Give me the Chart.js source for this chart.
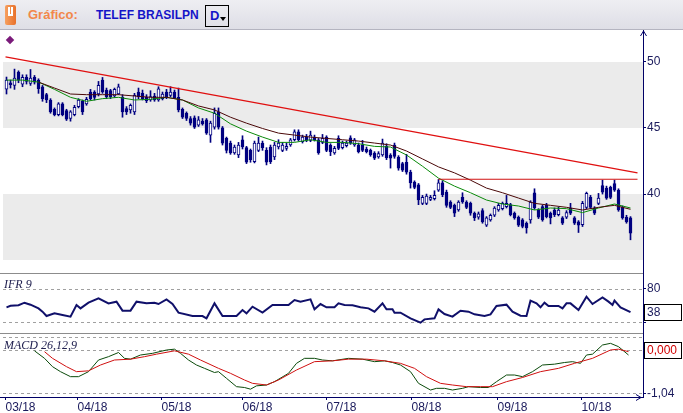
<!DOCTYPE html>
<html>
<head>
<meta charset="utf-8">
<script src="https://cdn.jsdelivr.net/npm/chart.js@4.4.1/dist/chart.umd.min.js"></script>
<style>
  html, body { margin: 0; padding: 0; background: #fff; }
  body { width: 683px; height: 413px; position: relative; overflow: hidden; font-family: "Liberation Sans", Arial, sans-serif; }
  #barra { position: absolute; left: 0; top: 0; width: 683px; height: 30px; background: linear-gradient(#eeeef2, #dedee6); border-bottom: 1px solid #b4b4c0; box-sizing: border-box; }
  #logo { position: absolute; left: 5px; top: 5px; width: 11px; height: 20px; background: linear-gradient(90deg, #f6a060, #e8702a); border-radius: 2px; }
  #logo:after { content: ""; position: absolute; left: 3px; top: 2px; width: 5px; height: 9px; border-left: 2px solid #fff; border-right: 2px solid #fff; border-bottom: 2px solid #fff; box-sizing: border-box; }
  #tit1 { position: absolute; left: 28px; top: 7px; font-size: 13px; font-weight: bold; color: #f2874a; }
  #tit2 { position: absolute; left: 96px; top: 8px; font-size: 12px; font-weight: bold; color: #1414c8; }
  #per { position: absolute; left: 205px; top: 5px; width: 24px; height: 22px; border: 1px solid #000; box-sizing: border-box; font-size: 13px; font-weight: bold; color: #1414c8; padding: 2px 0 0 4px; }
  #per span { position: absolute; left: 14px; top: 11px; width: 0; height: 0; border-left: 3px solid transparent; border-right: 3px solid transparent; border-top: 4px solid #000; }
  #diamante { position: absolute; left: 7px; top: 37px; width: 6px; height: 6px; background: #7a1a7a; transform: rotate(45deg); }
  canvas { position: absolute; left: 0; }
  .sep { position: absolute; left: 0; width: 643px; height: 1px; background: #8c8c8c; }
  .rot { position: absolute; left: 4px; font-family: "Liberation Serif", serif; font-style: italic; font-size: 12px; color: #202050; }
</style>
</head>
<body>
<div id="barra">
  <div id="logo"></div>
  <div id="tit1">Gráfico:</div>
  <div id="tit2">TELEF BRASILPN</div>
  <div id="per">D<span></span></div>
</div>
<canvas id="cvPreco" width="683" height="242" style="top:30px"></canvas>
<canvas id="cvIfr" width="683" height="62" style="top:272px"></canvas>
<canvas id="cvMacd" width="683" height="79" style="top:334px"></canvas>
<div class="sep" style="top:273px"></div>
<div class="sep" style="top:333px"></div>
<div id="diamante"></div>
<div class="rot" style="top:277px">IFR 9</div>
<div class="rot" style="top:338px">MACD 26,12,9</div>
<script>
// candles diarios (03/18 a 10/18)
const abertura = [
  47.92, 48.40, 48.20, 49.20, 48.30, 48.80, 48.35, 48.80, 48.60, 48.10,
  47.50, 47.10, 46.40, 46.00, 46.80, 46.30, 45.70, 46.00, 46.60, 47.00,
  46.80, 47.70, 47.70, 47.55, 48.60, 47.85, 47.80, 47.40, 47.55, 47.30,
  46.45, 46.35, 46.20, 47.70, 47.60, 47.30, 47.10, 47.40, 47.10, 47.20,
  47.70, 47.45, 47.70, 47.30, 46.40, 46.10, 45.70, 45.75, 45.20, 45.50,
  45.60, 44.45, 45.05, 46.20, 45.00, 44.20, 43.85, 43.10, 42.95, 44.10,
  43.50, 43.30, 42.45, 43.30, 43.85, 43.30, 43.55, 42.80, 43.55, 43.30,
  43.45, 43.70, 44.10, 44.70, 43.95, 44.30, 44.05, 44.30, 44.10, 43.90,
  44.30, 43.70, 43.10, 44.20, 43.50, 43.65, 44.25, 43.70, 43.70, 43.70,
  43.40, 43.30, 43.10, 42.80, 42.95, 43.60, 42.95, 43.70, 42.80, 42.30,
  42.40, 41.65, 40.90, 40.70, 39.30, 39.30, 39.60, 39.65, 40.30, 40.85,
  40.15, 39.40, 39.15, 38.80, 39.75, 39.40, 39.30, 38.55, 38.25, 38.75,
  37.65, 38.05, 38.40, 38.80, 38.90, 39.05, 39.20, 38.55, 38.25, 38.05,
  37.80, 38.05, 40.10, 38.80, 39.05, 39.15, 38.55, 38.80, 38.45, 38.20,
  38.25, 38.95, 38.20, 37.90, 37.70, 39.00, 39.75, 38.95, 39.30, 40.65,
  40.45, 40.50, 40.80, 40.30, 39.00, 38.25, 38.20
];
const fechamento = [
  48.60, 48.25, 48.75, 48.60, 48.80, 48.50, 48.75, 48.45, 47.95, 47.20,
  47.10, 46.20, 46.00, 46.80, 46.00, 45.65, 46.20, 46.55, 47.10, 46.20,
  47.15, 47.20, 47.30, 48.20, 47.70, 47.35, 47.35, 47.90, 48.10, 46.20,
  46.20, 46.70, 47.45, 47.35, 47.20, 47.05, 47.35, 47.10, 47.95, 47.55,
  47.35, 47.70, 47.25, 46.35, 45.80, 45.70, 45.35, 45.05, 45.60, 45.30,
  44.60, 45.35, 46.10, 45.05, 43.85, 43.30, 43.10, 43.55, 43.70, 43.55,
  42.40, 42.60, 43.85, 43.85, 43.50, 42.40, 42.45, 43.70, 43.85, 43.70,
  43.60, 44.10, 44.70, 44.10, 44.30, 44.05, 44.45, 44.10, 43.10, 44.20,
  43.30, 43.20, 43.45, 43.45, 43.85, 43.85, 43.85, 44.10, 43.20, 43.30,
  43.20, 42.95, 42.70, 43.05, 43.85, 42.75, 42.70, 42.85, 41.95, 41.80,
  41.65, 40.85, 40.50, 39.55, 39.75, 39.85, 39.75, 39.90, 40.85, 39.95,
  39.15, 39.00, 38.55, 39.40, 39.40, 39.00, 38.55, 38.20, 38.50, 37.90,
  38.20, 38.40, 38.95, 39.15, 39.30, 39.30, 38.45, 38.20, 37.65, 37.55,
  37.45, 39.40, 38.95, 38.25, 38.05, 38.30, 38.20, 38.45, 38.80, 37.80,
  38.60, 38.55, 37.80, 37.65, 39.30, 40.05, 39.00, 38.55, 39.70, 40.15,
  39.70, 39.75, 40.30, 38.80, 38.20, 37.90, 37.05
];
const maxima = [
  48.83, 48.60, 49.43, 49.30, 49.00, 49.00, 49.40, 48.95, 48.70, 48.20,
  47.60, 47.20, 46.50, 46.90, 46.90, 46.40, 46.30, 46.70, 47.20, 47.10,
  47.30, 47.90, 47.80, 48.50, 48.80, 48.00, 47.90, 48.00, 48.30, 47.50,
  46.60, 46.80, 47.60, 48.00, 47.85, 47.50, 47.80, 47.60, 48.10, 47.70,
  47.90, 48.10, 47.85, 48.00, 46.50, 46.20, 45.85, 45.90, 45.85, 45.70,
  45.70, 45.50, 46.50, 46.50, 45.10, 44.30, 44.00, 43.70, 43.90, 44.40,
  43.60, 43.40, 44.00, 44.30, 44.00, 43.50, 43.70, 43.90, 44.10, 43.90,
  43.85, 44.20, 44.85, 44.85, 44.45, 44.50, 44.75, 44.45, 44.20, 44.50,
  44.40, 43.80, 43.60, 44.40, 44.00, 44.00, 44.40, 44.20, 43.85, 44.05,
  43.55, 43.40, 43.20, 43.20, 44.15, 43.80, 43.05, 43.85, 42.90, 42.40,
  43.00, 41.80, 41.00, 40.80, 39.90, 40.00, 39.90, 40.25, 41.10, 41.00,
  40.30, 39.50, 39.25, 39.50, 40.10, 39.50, 39.40, 38.65, 38.65, 38.90,
  38.30, 38.50, 39.05, 39.30, 39.40, 39.90, 39.30, 38.65, 38.35, 38.15,
  37.90, 39.50, 40.40, 38.90, 39.15, 39.30, 38.65, 38.95, 39.00, 38.30,
  38.75, 39.30, 38.30, 38.00, 39.45, 40.15, 39.90, 39.05, 40.05, 41.05,
  40.60, 40.60, 41.05, 40.40, 39.10, 38.40, 38.30
];
const minima = [
  47.55, 48.00, 47.90, 48.40, 48.10, 48.30, 48.20, 48.30, 47.60, 47.00,
  46.90, 46.10, 45.90, 45.90, 45.90, 45.55, 45.50, 45.90, 46.50, 46.00,
  46.70, 47.10, 47.10, 47.40, 47.60, 47.20, 47.20, 47.30, 47.50, 45.80,
  46.00, 46.10, 46.00, 47.20, 47.10, 46.90, 47.00, 47.00, 47.00, 47.10,
  47.20, 47.35, 47.20, 46.20, 45.70, 45.55, 45.20, 44.95, 45.10, 45.20,
  44.50, 43.90, 44.90, 44.90, 43.70, 43.10, 43.00, 43.00, 42.75, 43.40,
  42.30, 42.40, 42.35, 43.20, 43.30, 42.20, 42.30, 42.60, 43.40, 43.20,
  43.30, 43.60, 44.00, 44.00, 43.85, 43.95, 43.95, 44.00, 43.00, 43.80,
  43.20, 42.90, 43.00, 43.35, 43.40, 43.55, 43.75, 43.60, 43.10, 43.20,
  43.10, 42.85, 42.60, 42.70, 42.85, 42.60, 41.96, 42.70, 41.80, 41.70,
  41.50, 40.45, 40.40, 39.20, 39.20, 39.20, 39.50, 39.55, 40.20, 39.80,
  39.00, 38.90, 38.30, 38.70, 39.30, 38.90, 38.40, 38.00, 38.10, 37.80,
  37.55, 37.95, 38.30, 38.70, 38.80, 38.95, 38.35, 38.10, 37.55, 37.45,
  37.05, 37.80, 38.85, 38.15, 37.95, 38.20, 37.75, 38.30, 38.35, 37.70,
  38.15, 38.45, 37.70, 37.10, 37.55, 38.90, 38.90, 38.45, 39.20, 40.00,
  39.60, 39.65, 40.20, 38.70, 38.10, 37.80, 36.55
];

// medias moveis (lidas a cada 4 pregoes)
const diasMedia = [0, 4, 8, 12, 16, 20, 24, 28, 32, 36, 40, 44, 48, 52, 56, 60, 64, 68, 72, 76,
  80, 84, 88, 92, 96, 100, 104, 108, 112, 116, 120, 124, 128, 132, 136, 140, 144, 148, 152, 156];
const mediaCurta = [48.6, 48.6, 48.45, 47.9, 47.3, 47.0, 47.2, 47.3, 47.1, 47.15,
  47.3, 47.1, 46.5, 46.1, 45.3, 44.75, 44.3, 43.9, 43.9, 44.1,
  43.9, 43.9, 43.8, 43.6, 43.55, 42.95, 42.1, 41.2, 40.6, 40.1,
  39.55, 39.25, 39.1, 38.8, 38.95, 38.9, 38.6, 38.95, 39.25, 38.95];
const mediaLonga = [null, null, 48.45, 48.0, 47.55, 47.5, 47.5, 47.5, 47.4, 47.3,
  47.3, 47.1, 46.65, 46.35, 45.8, 45.35, 44.95, 44.6, 44.45, 44.3,
  44.2, 44.1, 44.0, 43.85, 43.7, 43.25, 42.65, 42.05, 41.6, 41.05,
  40.45, 40.1, 39.7, 39.3, 39.15, 39.0, 38.8, 39.0, 39.15, 38.85];

// linhas de tendencia
const diasTendencia = [-0.25, 157.75];
const valTendencia = [50.35, 41.6];
const diasResistencia = [108, 157.75];
const valResistencia = [41.12, 41.12];

// IFR 9
const diasIfr = [0, 1, 3, 4.5, 6, 8, 9, 10, 12, 14, 16, 17.5, 18.5, 20.5, 23, 25.5, 27.5, 29, 31, 32.5,
  35, 37, 38, 40, 41.5, 43, 46.5, 49, 50, 52, 54, 57.5, 59, 60, 61.5, 64, 66.5, 70.5, 72, 73.5,
  76, 77, 78.5, 80, 82, 83, 84.5, 86.5, 88.5, 90.5, 92, 94, 95, 96.5, 97, 98.5, 101, 103.5, 104.5, 107,
  108, 109.5, 111.5, 113.5, 115.5, 117, 119.5, 121, 122.5, 125, 126.5, 128.5, 130, 131, 132.5, 133.5, 134.5, 135.5, 138, 139,
  140, 141, 143, 145, 146.5, 149, 150.5, 151.5, 152, 153.5, 156];
const valIfr = [46.7, 49.5, 50.5, 55.1, 51.5, 44.8, 38.8, 30.9, 35.8, 32.7, 29.7, 50.9, 44.8, 55.1, 63.0, 53.9, 57.0, 40.6, 40.6, 57.0,
  53.9, 55.1, 52.7, 61.2, 52.7, 37.0, 30.9, 30.9, 26.7, 53.9, 30.9, 30.9, 41.8, 35.8, 47.9, 37.0, 50.9, 50.9, 60.0, 57.0,
  61.2, 43.0, 52.7, 46.7, 46.7, 53.9, 50.9, 50.3, 46.7, 44.8, 38.8, 53.9, 43.0, 43.0, 37.0, 37.0, 26.7, 18.8, 24.8, 26.7,
  43.0, 34.5, 29.7, 40.6, 38.8, 33.9, 30.9, 33.9, 49.1, 51.5, 38.8, 31.5, 30.9, 58.8, 53.9, 46.7, 55.1, 49.1, 49.1, 44.8,
  53.9, 53.9, 41.8, 66.1, 52.7, 64.8, 57.0, 50.9, 58.8, 46.7, 38];

// MACD 26,12,9
const diasMacd = [7, 9.5, 11.5, 13.5, 16, 18, 20.5, 23, 25.5, 28, 29.5, 31, 33.5, 36.5, 40, 42, 43.5, 45.5, 47.5, 49.5,
  52, 53, 55, 57.5, 59.5, 61, 62.5, 65, 67, 70.5, 72.5, 74.5, 77, 79, 81.5, 85.5, 89, 92, 94.5, 96.5,
  98.5, 101, 103, 106, 107.5, 109.5, 111.5, 114, 115.5, 118.5, 120.5, 122.5, 125, 127, 129, 131.5, 134, 137, 139.5, 141.5,
  143.5, 145, 146.5, 149, 151, 153, 155.5];
const valMacd = [-0.02, -0.20, -0.40, -0.52, -0.64, -0.64, -0.52, -0.24, -0.16, -0.06, -0.20, -0.22, -0.12, -0.08, 0.0, 0.02, -0.08, -0.24, -0.36, -0.44,
  -0.54, -0.52, -0.68, -0.88, -0.90, -0.94, -0.86, -0.84, -0.76, -0.56, -0.32, -0.20, -0.20, -0.24, -0.26, -0.20, -0.22, -0.28, -0.26, -0.30,
  -0.36, -0.52, -0.80, -0.96, -0.92, -0.92, -0.96, -0.92, -0.88, -0.90, -0.90, -0.76, -0.60, -0.60, -0.64, -0.52, -0.36, -0.34, -0.30, -0.28,
  -0.32, -0.12, -0.10, 0.12, 0.16, 0.08, -0.12];
const diasSinal = [9.5, 11.5, 15, 17.5, 20.5, 23.5, 27, 31, 34.5, 37.5, 42, 45.5, 48.5, 53, 56, 59.5, 61.5, 65, 68, 72.5,
  77, 81.5, 85.5, 90, 94.5, 98.5, 102, 105, 108.5, 111.5, 115, 118.5, 121.5, 125, 129, 133.5, 138, 142, 146.5, 151,
  153, 155.5];
const valSinal = [-0.04, -0.20, -0.40, -0.52, -0.50, -0.36, -0.24, -0.22, -0.16, -0.10, -0.02, -0.10, -0.24, -0.44, -0.56, -0.72, -0.80, -0.84, -0.72, -0.48,
  -0.28, -0.26, -0.22, -0.22, -0.26, -0.32, -0.44, -0.64, -0.80, -0.84, -0.88, -0.88, -0.88, -0.76, -0.66, -0.52, -0.44, -0.32, -0.20, 0.0,
  0.02, -0.04];

// eixos
const escalaPreco = [40, 45, 50];
const faixas = [[45, 50], [35, 40]];
const escalaIfr = [20, 80];
const guiasIfr = [80, 20];
const escalaMacd = [-1.04, 0];
const guiasMacd = [0.31, 0, -1.04];
const posMeses = [-0.25, 17.75, 38.75, 59, 80, 101.25, 122.75, 143.75];
const meses = ['03/18', '04/18', '05/18', '06/18', '07/18', '08/18', '09/18', '10/18'];

const azul = '#000080';
const eixoCor = '#000066';
const textoCor = '#1a1a5c';
const fonte = { family: 'Liberation Sans', size: 12 };

const pts = (xs, ys) => xs.map((x, k) => ({ x: x, y: ys[k] }));

// plugin: faixas cinzas, linhas tracejadas, caixas de valor e setas
const extras = {
  id: 'extras',
  beforeDatasetsDraw(chart, args, o) {
    const { ctx, chartArea: a, scales: { y } } = chart;
    ctx.save();
    (o.faixas || []).forEach(f => {
      const y1 = y.getPixelForValue(f[1]), y2 = y.getPixelForValue(f[0]);
      ctx.fillStyle = '#ebebeb';
      ctx.fillRect(a.left + 3, Math.round(y1), a.right - a.left - 3, Math.round(y2) - Math.round(y1));
    });
    ctx.strokeStyle = '#a0a0a0';
    ctx.lineWidth = 1;
    ctx.setLineDash([3, 3]);
    (o.guias || []).forEach(v => {
      const py = Math.round(y.getPixelForValue(v)) + 0.5;
      ctx.beginPath();
      ctx.moveTo(a.left + 3, py);
      ctx.lineTo(a.right, py);
      ctx.stroke();
    });
    ctx.restore();
  },
  afterDraw(chart, args, o) {
    const { ctx, chartArea: a, scales: { y } } = chart;
    ctx.save();
    if (o.caixa) {
      const py = Math.round(y.getPixelForValue(o.caixa.valor));
      ctx.fillStyle = '#fff';
      ctx.fillRect(a.right + 1, py - 8, chart.width - a.right - 2, 16);
      ctx.strokeStyle = '#000';
      ctx.lineWidth = 1;
      ctx.strokeRect(a.right + 1.5, py - 7.5, chart.width - a.right - 3, 16);
      ctx.fillStyle = o.caixa.cor;
      ctx.font = '12px "Liberation Sans"';
      ctx.textBaseline = 'middle';
      ctx.fillText(o.caixa.texto, a.right + 4, py + 1);
    }
    ctx.strokeStyle = eixoCor;
    ctx.lineWidth = 1;
    if (o.setaTopo) {
      const x = a.right + 0.5, t = a.top + 1;
      ctx.beginPath();
      ctx.moveTo(x - 3, t + 5); ctx.lineTo(x, t); ctx.lineTo(x + 3, t + 5);
      ctx.stroke();
    }
    if (o.setaDireita) {
      const b = a.bottom + 0.5, r = a.right - 2;
      ctx.beginPath();
      ctx.moveTo(r - 5, b - 3); ctx.lineTo(r, b); ctx.lineTo(r - 5, b + 3);
      ctx.stroke();
    }
    ctx.restore();
  }
};

function eixoX(mostrar) {
  const eixo = {
    type: 'linear', min: -1.625, max: 159.125, display: mostrar, offset: false,
    afterBuildTicks: s => { s.ticks = posMeses.map(v => ({ value: v })); },
    grid: { drawOnChartArea: false, offset: false, color: eixoCor, tickLength: 3 },
    border: { color: eixoCor },
    ticks: { align: 'start', color: textoCor, font: fonte, padding: 0, maxRotation: 0, autoSkip: false,
      callback: (v, i) => meses[i] }
  };
  if (mostrar) {
    eixo.afterFit = s => { s.height = 16; s.paddingLeft = 0; s.paddingRight = 0; };
  }
  return eixo;
}

function eixoY(min, max, marcas, rotulo) {
  return {
    position: 'right', min: min, max: max,
    afterBuildTicks: s => { s.ticks = marcas.map(v => ({ value: v })); },
    afterFit: s => { s.width = 40; s.paddingTop = 0; s.paddingBottom = 0; },
    grid: { drawOnChartArea: false, color: eixoCor, tickLength: 3 },
    border: { color: eixoCor },
    ticks: { color: textoCor, font: fonte, padding: 1, callback: rotulo }
  };
}

const base = {
  responsive: false,
  animation: false,
  events: [],
  layout: { padding: 0 },
  plugins: { legend: { display: false }, tooltip: { enabled: false } }
};

const corpos = abertura.map((a, i) => ({ x: i, y: [a, fechamento[i]] }));
const pavios = maxima.map((h, i) => ({ x: i, y: [minima[i], h] }));
const corCorpo = abertura.map((a, i) => fechamento[i] > a ? '#ffffff' : azul);

new Chart(document.getElementById('cvPreco'), {
  type: 'bar',
  data: {
    datasets: [
      { type: 'line', data: pts(diasTendencia, valTendencia), borderColor: '#e01010', borderWidth: 1.2, pointRadius: 0, order: 0 },
      { type: 'line', data: pts(diasResistencia, valResistencia), borderColor: '#d01010', borderWidth: 1.2, pointRadius: 0, order: 0 },
      { type: 'line', data: pts(diasMedia, mediaLonga), borderColor: '#4a0808', borderWidth: 1, pointRadius: 0, order: 1 },
      { type: 'line', data: pts(diasMedia, mediaCurta), borderColor: '#0a8a0a', borderWidth: 1, pointRadius: 0, order: 1 },
      { data: corpos, backgroundColor: corCorpo, borderColor: azul, borderWidth: 1, borderSkipped: false,
        barThickness: 3, grouped: false, minBarLength: 1, order: 2 },
      { data: pavios, backgroundColor: azul, barThickness: 1, grouped: false, order: 3 }
    ]
  },
  options: Object.assign({}, base, {
    scales: {
      x: eixoX(false),
      y: eixoY(34.12, 52.38, escalaPreco, v => String(v))
    },
    plugins: Object.assign({}, base.plugins, { extras: { faixas: faixas, setaTopo: true } })
  }),
  plugins: [extras]
});

new Chart(document.getElementById('cvIfr'), {
  type: 'line',
  data: {
    datasets: [
      { data: pts(diasIfr, valIfr), borderColor: '#10106a', borderWidth: 2, pointRadius: 0 }
    ]
  },
  options: Object.assign({}, base, {
    scales: {
      x: eixoX(false),
      y: eixoY(-1.8, 110.9, escalaIfr, v => v === 80 ? '80' : '')
    },
    plugins: Object.assign({}, base.plugins, {
      extras: { guias: guiasIfr, caixa: { valor: valIfr[valIfr.length - 1], texto: String(valIfr[valIfr.length - 1]), cor: textoCor } }
    })
  }),
  plugins: [extras]
});

new Chart(document.getElementById('cvMacd'), {
  type: 'line',
  data: {
    datasets: [
      { data: pts(diasSinal, valSinal), borderColor: '#d01010', borderWidth: 1, pointRadius: 0 },
      { data: pts(diasMacd, valMacd), borderColor: '#0a4a0a', borderWidth: 1, pointRadius: 0 }
    ]
  },
  options: Object.assign({}, base, {
    scales: {
      x: eixoX(true),
      y: eixoY(-1.128, 0.384, escalaMacd, v => v === 0 ? '' : v.toFixed(2).replace('.', ','))
    },
    plugins: Object.assign({}, base.plugins, {
      extras: { guias: guiasMacd, caixa: { valor: 0, texto: '0,000', cor: '#d00000' }, setaDireita: true }
    })
  }),
  plugins: [extras]
});
</script>
</body>
</html>
